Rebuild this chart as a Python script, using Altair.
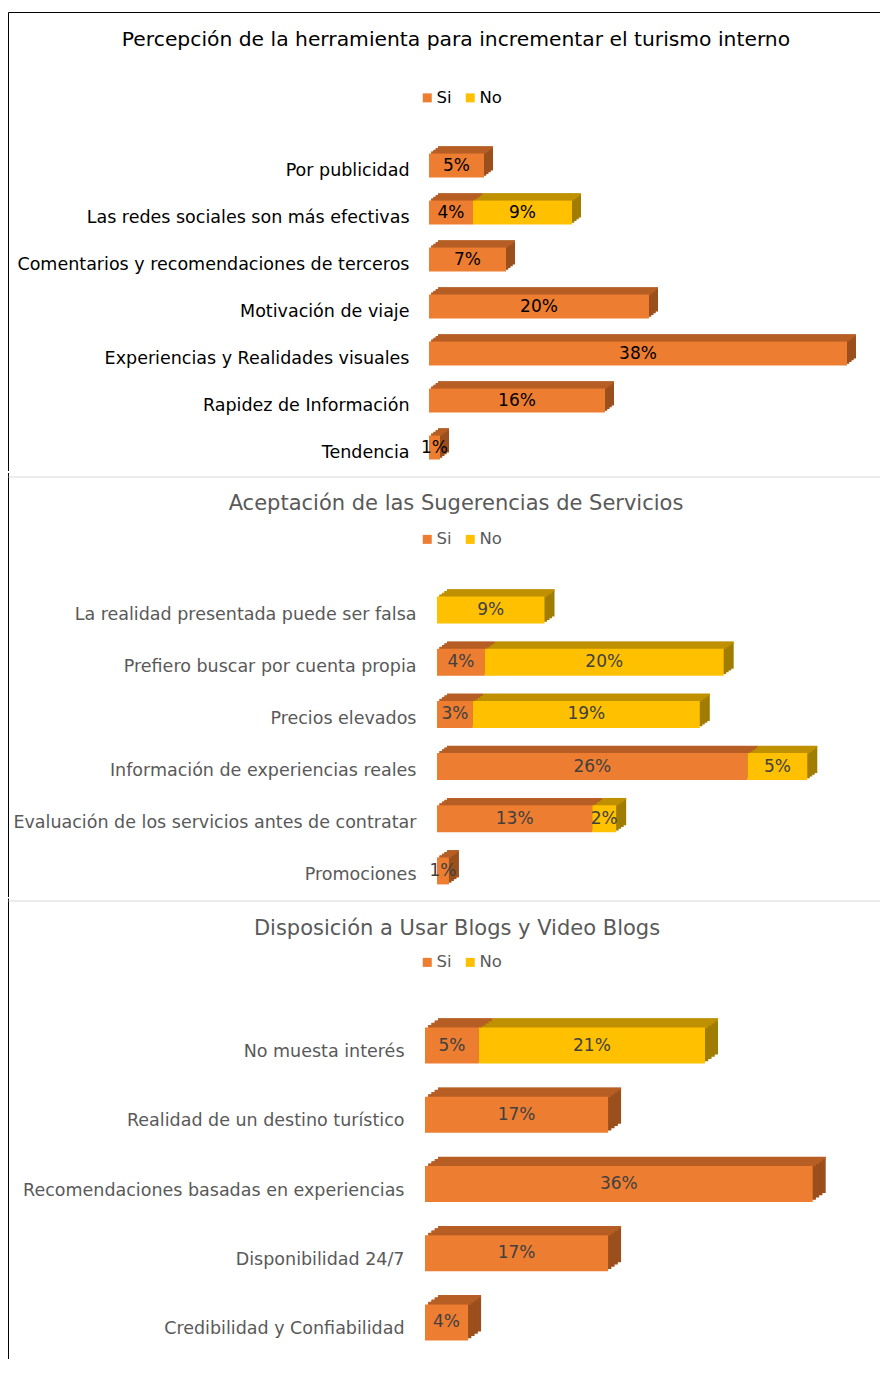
import altair as alt
import pandas as pd

FONT = "DejaVu Sans"
series = ["Si", "No"]
front_colors = ["#ED7D31", "#FFC000"]
top_colors = ["#B65E24", "#BF9000"]
side_colors = ["#9B4F1D", "#A07C00"]

# Panel 1
p1_title = "Percepción de la herramienta para  incrementar el turismo interno"
p1_cats = ["Por publicidad", "Las  redes sociales son más efectivas",
           "Comentarios y recomendaciones de terceros", "Motivación de viaje",
           "Experiencias y Realidades visuales", "Rapidez de Información", "Tendencia"]
p1_si = [5, 4, 7, 20, 38, 16, 1]
p1_no = [0, 9, 0, 0, 0, 0, 0]

# Panel 2
p2_title = "Aceptación de las Sugerencias de Servicios"
p2_cats = ["La realidad presentada puede ser falsa", "Prefiero buscar por cuenta propia",
           "Precios elevados", "Información de experiencias reales",
           "Evaluación de los servicios antes de contratar", "Promociones"]
p2_si = [0, 4, 3, 26, 13, 1]
p2_no = [9, 20, 19, 5, 2, 0]

# Panel 3
p3_title = "Disposición a Usar Blogs y Video Blogs"
p3_cats = ["No muesta interés", "Realidad de un destino turístico",
           "Recomendaciones basadas en experiencias", "Disponibilidad 24/7",
           "Credibilidad y Confiabilidad"]
p3_si = [5, 17, 36, 17, 4]
p3_no = [21, 0, 0, 0, 0]

STEPS = 4


def panel(cats, si, no, title, cfg):
    n = len(cats)
    df = pd.DataFrame({
        "cat": cats * 2,
        "serie": ["Si"] * n + ["No"] * n,
        "ord": [0] * n + [1] * n,
        "v": si + no,
    })
    W, H = cfg["W"], cfg["H"]
    h, dx, dy = cfg["h"], cfg["dx"], cfg["dy"]
    ycol = alt.Y("cat:N", sort=cats,
                 scale=alt.Scale(paddingInner=0, paddingOuter=0),
                 axis=alt.Axis(title=None, domain=False, ticks=False, grid=False,
                               labelFont=FONT, labelFontSize=17.5,
                               labelColor=cfg["lc"], labelPadding=cfg["lp"],
                               labelLimit=600, labelOffset=cfg["lo"]))
    xs = alt.Scale(domain=[0, cfg["dmax"]], range=cfg["xr"])
    xe = alt.X("x0:Q", scale=xs, axis=None)
    base = (alt.Chart(df)
            .transform_filter("datum.v > 0")
            .transform_stack(stack="v", groupby=["cat"], as_=["x0", "x1"],
                             sort=[alt.SortField("ord", order="ascending")])
            .transform_calculate(xm="(datum.x0 + datum.x1) / 2",
                                 lab="datum.v + '%'"))
    side_fill = alt.condition("datum.serie == 'Si'", alt.value(side_colors[0]), alt.value(side_colors[1]))
    top_fill = alt.condition("datum.serie == 'Si'", alt.value(top_colors[0]), alt.value(top_colors[1]))
    layers = []
    # extrusion (right faces), back to front
    for k in range(STEPS, 0, -1):
        ox, oy = k * dx / STEPS, -k * dy / STEPS
        layers.append(base.mark_bar(size=h, xOffset=ox, x2Offset=ox, yOffset=oy).encode(
            y=ycol, x=xe, x2="x1:Q", fill=side_fill))
    # top faces
    for k in range(1, STEPS + 1):
        ox = k * dx / STEPS
        oy = -(h / 2) - (k - 0.5) * dy / STEPS
        layers.append(base.mark_bar(size=dy / STEPS + 0.6, xOffset=ox, x2Offset=ox, yOffset=oy).encode(
            y=ycol, x=xe, x2="x1:Q", fill=top_fill))
    front = base.mark_bar(size=h).encode(
        y=ycol, x=xe, x2="x1:Q",
        color=alt.Color("serie:N", scale=alt.Scale(domain=series, range=front_colors),
                        legend=alt.Legend(orient="none", legendX=cfg["lx"], legendY=cfg["ly"],
                                          direction="horizontal", title=None,
                                          symbolType="square", symbolSize=81,
                                          symbolStrokeWidth=0, labelFont=FONT,
                                          labelFontSize=16.5, labelColor=cfg["lc"],
                                          labelOffset=1, columnPadding=10, padding=0)))
    text = base.mark_text(font=FONT, fontSize=17, color=cfg["tc"]).encode(
        y=ycol, x=alt.X("xm:Q", scale=xs, axis=None), text="lab:N")
    rules_df = pd.DataFrame({"k": [0]})
    rules = []
    for (x1, x2, y1, y2, col) in cfg["rules"]:
        rules.append(alt.Chart(rules_df).mark_rule(color=col, strokeWidth=1).encode(
            x=alt.value(x1), x2=alt.value(x2), y=alt.value(y1), y2=alt.value(y2)))
    layer = alt.layer(*rules, *layers, front, text).properties(
        width=W, height=H,
        title=alt.TitleParams(title, font=FONT, fontSize=cfg["tfs"], fontWeight="normal",
                              color=cfg["titc"], anchor="middle", frame="group",
                              dx=cfg["tdx"], offset=cfg["toff"], baseline="middle"))
    return layer


LX = -416.5
RX = 455
cfg1 = dict(W=450, H=329, h=24, dx=9, dy=7, dmax=40, xr=[4, 444], lp=16,
            lc="#000000", tc="#000000", titc="#000000", lo=5, lx=-6, ly=-52.5,
            tdx=-194, toff=-48, tfs=20.3,
            rules=[(LX, LX, -129.5, 329, "#000000"),
                   (LX, RX, -129.5, -129.5, "#000000")])
cfg2 = dict(W=450, H=313, h=27, dx=10, dy=7, dmax=36, xr=[12, 442], lp=9,
            lc="#595959", tc="#404040", titc="#595959", lo=4.5, lx=-6, ly=-53,
            tdx=-194, toff=-52, tfs=21,
            rules=[(LX, LX, -111, 313, "#000000"),
                   (LX, RX, -107, -107, "#D9D9D9")])
cfg3 = dict(W=450, H=346, h=36, dx=13, dy=9, dmax=39, xr=[0, 420], lp=21,
            lc="#595959", tc="#404040", titc="#595959", lo=6.5, lx=-6, ly=-57,
            tdx=-193, toff=-52, tfs=21,
            rules=[(LX, LX, -112.5, 348, "#000000"),
                   (LX, RX, -110, -110, "#D9D9D9")])

c1 = panel(p1_cats, p1_si, p1_no, p1_title, cfg1)
c2 = panel(p2_cats, p2_si, p2_no, p2_title, cfg2)
c3 = panel(p3_cats, p3_si, p3_no, p3_title, cfg3)

chart = (alt.concat(c1, c2, c3, columns=1, spacing=0,
                    padding={"left": 0, "top": 4, "right": 0, "bottom": 0})
         .resolve_scale(color="independent")
         .resolve_legend(color="independent")
         .configure_view(stroke=None))

chart.save("out.html", embed_options={"renderer": "svg", "actions": False})
